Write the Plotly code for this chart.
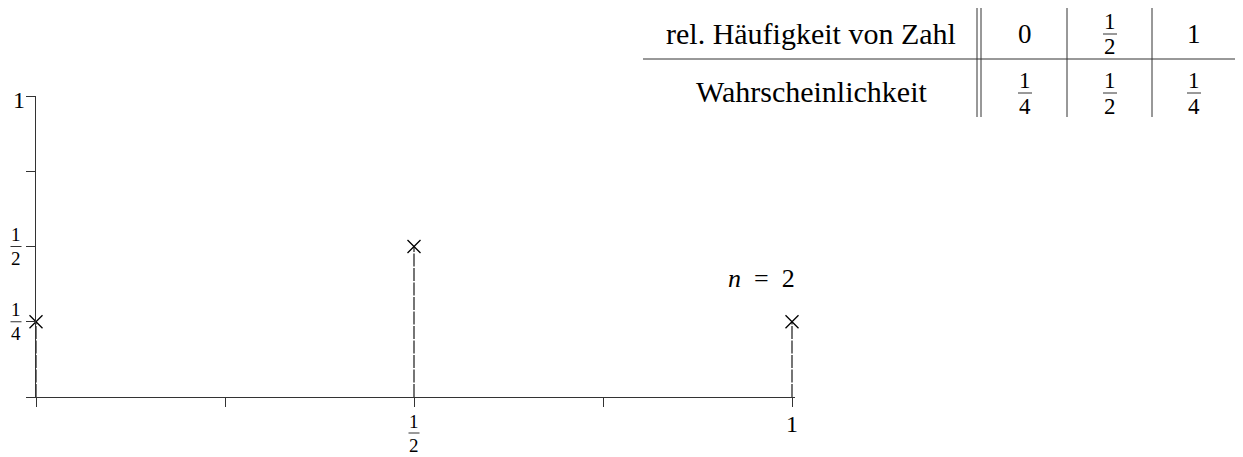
import plotly.graph_objects as go
from fractions import Fraction

# Werte aus dem Bild (n = 2 Würfe)
n = 2
zahl_anteil = [0, 0.5, 1]        # rel. Häufigkeit von Zahl
wahrsch = [0.25, 0.5, 0.25]      # Wahrscheinlichkeit
x_ticks = [0, 0.25, 0.5, 0.75, 1]
x_ticklabels = ["", "", "1/2", "", "1"]
y_ticks = [0, 0.25, 0.5, 0.75, 1]
y_ticklabels = ["", "1/4", "1/2", "", "1"]
row_labels = ["rel. Häufigkeit von Zahl", "Wahrscheinlichkeit"]

# die Seite hat 8px Rand, also Figur etwas kleiner und alles um 8px verschieben
OFF = 8
W, H = 1243 - OFF, 457 - OFF
FONT = "Liberation Serif"
LINE = "#333333"

# Pixel-Lage der Achsen (im Fenster)
X0, X1 = 36, 792
Y0, Y1 = 397, 96
XR = [0, 1.004]


def px(x):
    return X0 + x * (X1 - X0)


def py(y):
    return Y0 - y * (Y0 - Y1)


def pap_x(x):
    return (x - OFF) / W


def pap_y(y):
    return 1 - (y - OFF) / H


annotations = []
shapes = []


def text_at(x, y, text, size):
    annotations.append(dict(
        x=pap_x(x), y=pap_y(y), xref="paper", yref="paper", text=text,
        showarrow=False, xanchor="center", yanchor="middle", borderpad=0,
        font=dict(family=FONT, size=size, color="black")))


def hline(x0, x1, y, width=1):
    shapes.append(dict(type="line", xref="paper", yref="paper",
                       x0=pap_x(x0), x1=pap_x(x1), y0=pap_y(y), y1=pap_y(y),
                       line=dict(color=LINE, width=width)))


def vline(x, y0, y1, width=1):
    shapes.append(dict(type="line", xref="paper", yref="paper",
                       x0=pap_x(x), x1=pap_x(x), y0=pap_y(y0), y1=pap_y(y1),
                       line=dict(color=LINE, width=width)))


def label(x, y, text, size, fsize, off=12, bar=11):
    if "/" in text:
        num, den = text.split("/")
        text_at(x, y - off, num, fsize)
        text_at(x, y + off, den, fsize)
        hline(x - bar / 2, x + bar / 2, y)
    elif text:
        text_at(x, y, text, size)


fig = go.Figure()

# gestrichelte Stäbe
sx, sy = [], []
for a, p in zip(zahl_anteil, wahrsch):
    sx += [a, a, None]
    sy += [0, p, None]
fig.add_trace(go.Scatter(x=sx, y=sy, mode="lines", hoverinfo="skip",
                         line=dict(color="#1a1a1a", width=1.2, dash="13px,1.5px")))

fig.add_trace(go.Scatter(x=zahl_anteil, y=wahrsch, mode="markers", cliponaxis=False,
                         marker=dict(symbol="x-thin", size=13,
                                     line=dict(color="black", width=1.3))))

# Achsenbeschriftungen
for v, t in zip(x_ticks, x_ticklabels):
    if "/" in t:
        label(px(v), 433, t, 24, 19)
    else:
        label(px(v), 424, t, 24, 19)
for v, t in zip(y_ticks, y_ticklabels):
    if "/" in t:
        label(16, py(v), t, 24, 19)
    else:
        label(18.5, py(v) + 4, t, 24, 19)

text_at(761, 278, "<i>n</i>\u00a0\u00a0=\u00a0\u00a0" + str(n), 26)

# Tabelle
col_x = [1025, 1110, 1194]
vline(977, 8, 117)
vline(981, 8, 117)
for xv in [1067, 1152, 1236]:
    vline(xv, 8, 117)
hline(643, 1236, 59)
text_at(811, 33, row_labels[0], 30)
text_at(811, 91, row_labels[1], 30)
for cx, a, p in zip(col_x, zahl_anteil, wahrsch):
    fa = str(Fraction(a).limit_denominator())
    fp = str(Fraction(p).limit_denominator())
    label(cx, 34, fa, 27, 23, off=12.5, bar=14)
    label(cx, 93, fp, 27, 23, off=13, bar=14)

fig.update_layout(
    width=W, height=H, margin=dict(l=0, r=0, t=0, b=0),
    paper_bgcolor="white", plot_bgcolor="white", showlegend=False,
    annotations=annotations, shapes=shapes,
    xaxis=dict(range=XR, domain=[pap_x(X0), pap_x(px(XR[1]))], tickvals=x_ticks,
               showticklabels=False, ticks="outside", ticklen=9, tickcolor=LINE,
               showline=True, linecolor=LINE, linewidth=1,
               showgrid=False, zeroline=False, fixedrange=True),
    yaxis=dict(range=[0, 1], domain=[pap_y(Y0), pap_y(Y1)], tickvals=y_ticks,
               showticklabels=False, ticks="outside", ticklen=9, tickcolor=LINE,
               showline=True, linecolor=LINE, linewidth=1,
               showgrid=False, zeroline=False, fixedrange=True),
)

fig.write_html("out.html")
